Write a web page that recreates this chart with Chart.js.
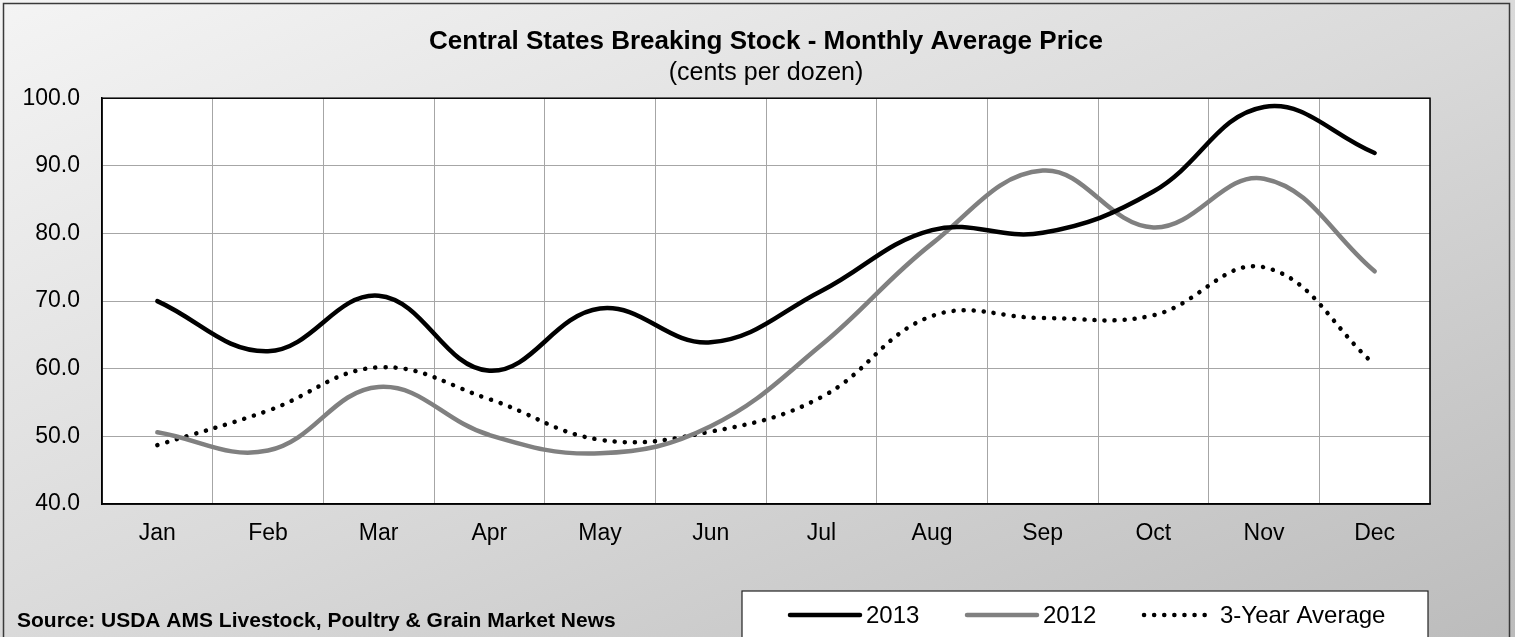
<!DOCTYPE html>
<html>
<head>
<meta charset="utf-8">
<script src="https://cdn.jsdelivr.net/npm/chart.js@4.4.1/dist/chart.umd.min.js"></script>
<style>
  html, body { margin: 0; padding: 0; background: #fff; }
  #wrap { width: 1515px; height: 637px; position: relative; }
</style>
</head>
<body>
<div id="wrap"><canvas id="priceChart"></canvas></div>
<script>
// Data
const months = ['Jan', 'Feb', 'Mar', 'Apr', 'May', 'Jun', 'Jul', 'Aug', 'Sep', 'Oct', 'Nov', 'Dec'];
const price2013 = [70.0, 62.6, 70.8, 59.7, 68.9, 63.9, 71.5, 80.5, 80.1, 86.2, 98.7, 91.9];
const price2012 = [50.6, 47.9, 57.3, 50.2, 47.5, 51.5, 63.5, 78.5, 89.3, 80.9, 88.1, 74.4];
const avg3Year = [48.7, 53.8, 60.2, 55.5, 49.5, 50.7, 55.8, 67.8, 67.5, 67.9, 75.0, 60.6];
const yTicks = [40, 50, 60, 70, 80, 90, 100];

const FONT = 'Arial, "Liberation Sans", sans-serif';

// gray gradient frame, plot border, source note and legend box
const framePlugin = {
    id: 'frame',
    beforeDraw(chart) {
        const ctx = chart.ctx;
        const w = chart.width, h = chart.height;
        ctx.save();
        ctx.save();
        ctx.scale(w, h);
        const g = ctx.createLinearGradient(0, 0, 1, 1);
        g.addColorStop(0, '#f4f4f4');
        g.addColorStop(0.5, '#dadada');
        g.addColorStop(1, '#bcbcbc');
        ctx.fillStyle = g;
        ctx.fillRect(0, 0, 1, 1);
        ctx.restore();
        ctx.strokeStyle = '#3a3a3a';
        ctx.lineWidth = 1.5;
        ctx.strokeRect(3.5, 3.5, 1506, h + 10);
        const a = chart.chartArea;
        ctx.fillStyle = '#ffffff';
        ctx.fillRect(a.left, a.top, a.right - a.left, a.bottom - a.top);
        ctx.restore();
    },
    afterDraw(chart) {
        const ctx = chart.ctx;
        const a = chart.chartArea;
        ctx.save();
        ctx.strokeStyle = '#000';
        ctx.lineWidth = 1.5;
        ctx.strokeRect(a.left, a.top, a.right - a.left, a.bottom - a.top);

        ctx.fillStyle = '#000';
        ctx.font = 'bold 21px ' + FONT;
        ctx.textBaseline = 'middle';
        ctx.textAlign = 'left';
        ctx.fillText('Source: USDA AMS Livestock, Poultry & Grain Market News', 17, 621);

        ctx.fillStyle = '#fff';
        ctx.fillRect(742, 591, 686, 60);
        ctx.strokeStyle = '#222';
        ctx.lineWidth = 1.2;
        ctx.strokeRect(742, 591, 686, 60);

        const items = [
            { x: 790, text: 866 },
            { x: 967, text: 1043 },
            { x: 1144, text: 1220 }
        ];
        chart.data.datasets.forEach((ds, i) => {
            const it = items[i];
            ctx.beginPath();
            ctx.strokeStyle = ds.borderColor;
            ctx.lineWidth = ds.borderWidth;
            ctx.lineCap = ds.borderCapStyle || 'butt';
            ctx.setLineDash(ds.borderDash || []);
            ctx.moveTo(it.x, 615);
            ctx.lineTo(it.x + 70, 615);
            ctx.stroke();
            ctx.setLineDash([]);
            ctx.fillStyle = '#000';
            ctx.font = '24px ' + FONT;
            ctx.fillText(ds.label, it.text, 616);
        });
        ctx.restore();
    }
};

const chartData = {
    labels: months,
    datasets: [
        {
            label: '2013',
            data: price2013,
            borderColor: '#000000',
            borderWidth: 4.5,
            borderCapStyle: 'round',
            tension: 0.4,
            pointRadius: 0
        },
        {
            label: '2012',
            data: price2012,
            borderColor: '#808080',
            borderWidth: 4.5,
            borderCapStyle: 'round',
            tension: 0.4,
            pointRadius: 0
        },
        {
            label: '3-Year Average',
            data: avg3Year,
            borderColor: '#000000',
            borderWidth: 4.5,
            borderCapStyle: 'round',
            borderDash: [0.1, 10],
            tension: 0.4,
            pointRadius: 0
        }
    ]
};

const config = {
    type: 'line',
    data: chartData,
    plugins: [framePlugin],
    options: {
        responsive: true,
        maintainAspectRatio: false,
        animation: false,
        layout: { padding: { left: 10, right: 85, top: 0, bottom: 73 } },
        plugins: {
            legend: { display: false },
            tooltip: { enabled: false },
            title: {
                display: true,
                fullSize: false,
                text: 'Central States Breaking Stock - Monthly Average Price',
                color: '#000',
                font: { family: FONT, size: 26, weight: 'bold', lineHeight: 1.2 },
                padding: { top: 26, bottom: 0 }
            },
            subtitle: {
                display: true,
                fullSize: false,
                text: '(cents per dozen)',
                color: '#000',
                font: { family: FONT, size: 25, weight: 'normal', lineHeight: 1.2 },
                padding: { top: 1, bottom: 10 }
            }
        },
        scales: {
            x: {
                offset: true,
                grid: { offset: true, color: '#a6a6a6', lineWidth: 1, drawTicks: false },
                border: { display: true, color: '#000', width: 1.5 },
                ticks: { color: '#000', font: { family: FONT, size: 23 }, padding: 16, maxRotation: 0 },
                afterFit(scale) { scale.height = 60; }
            },
            y: {
                min: 40,
                max: 100,
                afterBuildTicks(scale) { scale.ticks = yTicks.map(v => ({ value: v })); },
                grid: { color: '#a6a6a6', lineWidth: 1, drawTicks: false },
                border: { display: true, color: '#000', width: 1.5 },
                ticks: {
                    color: '#000',
                    font: { family: FONT, size: 23 },
                    padding: 22,
                    callback: v => v.toFixed(1)
                },
                afterFit(scale) { scale.width = 92; }
            }
        }
    }
};

const priceChart = new Chart(document.getElementById('priceChart'), config);
</script>
</body>
</html>
